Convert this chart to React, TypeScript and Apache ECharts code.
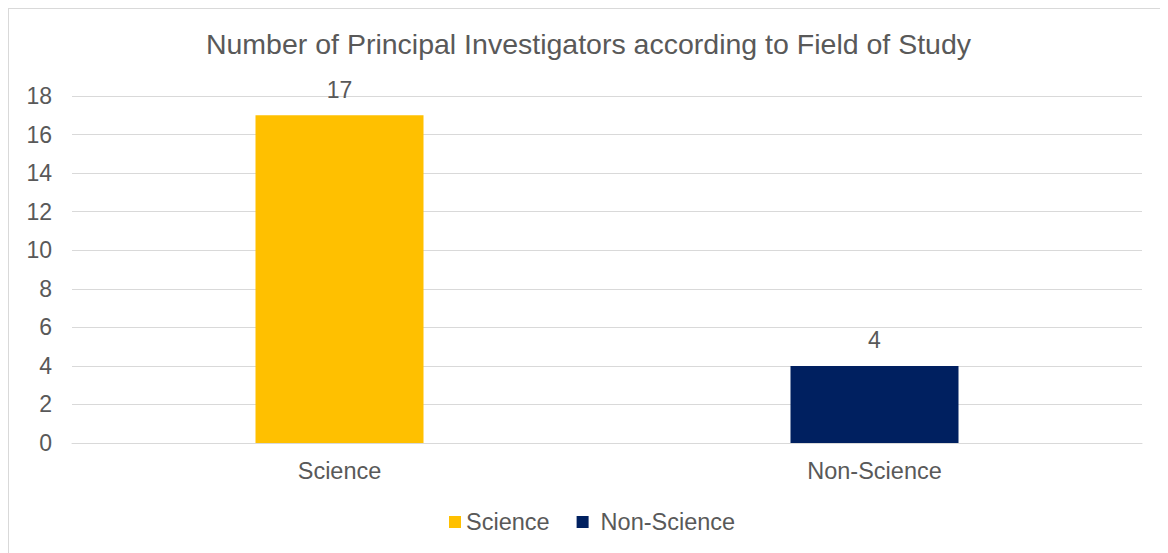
import React, { useEffect, useRef } from "react";
import * as echarts from "echarts";

const categories = ["Science", "Non-Science"];
const seriesNames = ["Science", "Non-Science"];
const scienceValues = [17, null];
const nonScienceValues = [null, 4];
const yTicks = { min: 0, max: 18, interval: 2 };

const FONT = "'Liberation Sans', Arial, sans-serif";
const TEXT = "#595959";
const GRID = "#D9D9D9";

export default function App() {
  const ref = useRef<HTMLDivElement>(null);
  useEffect(() => {
    if (!ref.current) return;
    const chart = echarts.init(ref.current, undefined, { renderer: "svg" });
    const label = {
      show: true,
      position: "top",
      distance: 14,
      color: TEXT,
      fontSize: 23,
      fontFamily: FONT,
    };
    chart.setOption({
      animation: false,
      textStyle: { fontFamily: FONT, color: TEXT },
      title: {
        text: "Number of Principal Investigators according to Field of Study",
        left: "center",
        top: 20,
        padding: 0,
        textStyle: { fontSize: 28.5, fontWeight: "normal", color: TEXT, fontFamily: FONT },
      },
      legend: {
        data: [
          { name: seriesNames[0] },
          { name: seriesNames[1], textStyle: { padding: [0, 0, 0, 7] } },
        ],
        left: 435,
        top: 496,
        itemWidth: 12,
        itemHeight: 12,
        itemGap: 27,
        icon: "rect",
        textStyle: { fontSize: 23.5, color: TEXT, fontFamily: FONT },
      },
      grid: { left: 63, top: 87, width: 1070, height: 347, containLabel: false },
      xAxis: {
        type: "category",
        data: categories,
        axisLine: { lineStyle: { color: GRID, width: 1 } },
        axisTick: { show: false },
        axisLabel: { fontSize: 23.5, color: TEXT, margin: 16, fontFamily: FONT },
      },
      yAxis: {
        type: "value",
        min: yTicks.min,
        max: yTicks.max,
        interval: yTicks.interval,
        axisLine: { show: false },
        axisTick: { show: false },
        splitLine: { lineStyle: { color: GRID, width: 1 } },
        axisLabel: { fontSize: 23, color: TEXT, margin: 20, fontFamily: FONT },
      },
      series: [
        {
          name: seriesNames[0],
          type: "bar",
          stack: "s",
          barWidth: 168,
          data: scienceValues,
          itemStyle: { color: "#FFC000" },
          label,
        },
        {
          name: seriesNames[1],
          type: "bar",
          stack: "s",
          barWidth: 168,
          data: nonScienceValues,
          itemStyle: { color: "#002060" },
          label,
        },
      ],
    });
    return () => chart.dispose();
  }, []);
  return (
    <div
      style={{
        width: 1160,
        height: 545,
        borderLeft: "1px solid #D9D9D9",
        borderTop: "1px solid #D9D9D9",
        boxSizing: "border-box",
      }}
    >
      <div ref={ref} style={{ width: 1159, height: 544 }} />
    </div>
  );
}
